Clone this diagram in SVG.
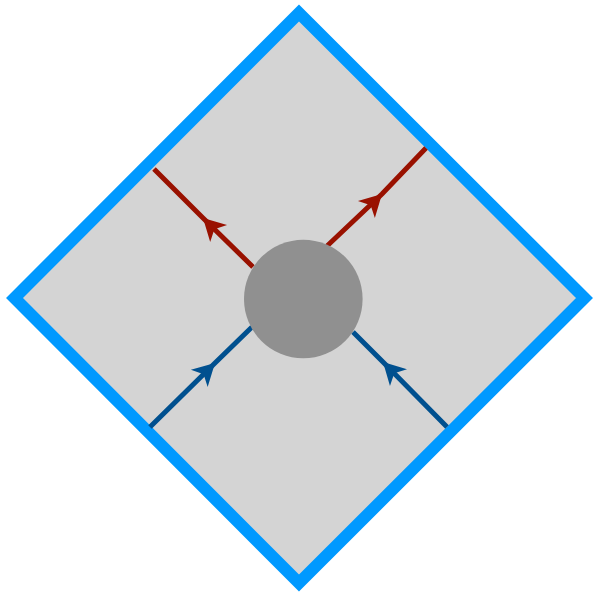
<svg xmlns="http://www.w3.org/2000/svg" width="593" height="593" viewBox="0 0 593 593">
<style>
.red{stroke:#991100;stroke-width:5;fill:none}
.blue{stroke:#00508f;stroke-width:5;fill:none}
</style>
<defs>
<marker id="ar" markerUnits="userSpaceOnUse" markerWidth="40" markerHeight="40" viewBox="-30 -20 40 40" refX="0" refY="0" orient="auto"><path d="M0,0 L-22,-12 L-16,0 L-22,12 Z" fill="#991100"/></marker>
<marker id="ab" markerUnits="userSpaceOnUse" markerWidth="40" markerHeight="40" viewBox="-30 -20 40 40" refX="0" refY="0" orient="auto"><path d="M0,0 L-22,-12 L-16,0 L-22,12 Z" fill="#00508f"/></marker>
</defs>
<g id="diamond"><polygon points="299,13 584.5,298 299,583 14.5,298" fill="#d4d4d4" stroke="#0099ff" stroke-width="12"/></g>
<g id="connectors">
<path class="red" d="M253,267 L203,218 L154,169" marker-mid="url(#ar)"/>
<path class="red" d="M327,246 L382,194 L426,148" marker-mid="url(#ar)"/>
<path class="blue" d="M150,427 L215,363 L252,327" marker-mid="url(#ab)"/>
<path class="blue" d="M447,427 L383,362 L353,332" marker-mid="url(#ab)"/>
</g>
<g id="vertex"><circle cx="303.3" cy="299" r="59.3" fill="#909090"/></g>
</svg>
